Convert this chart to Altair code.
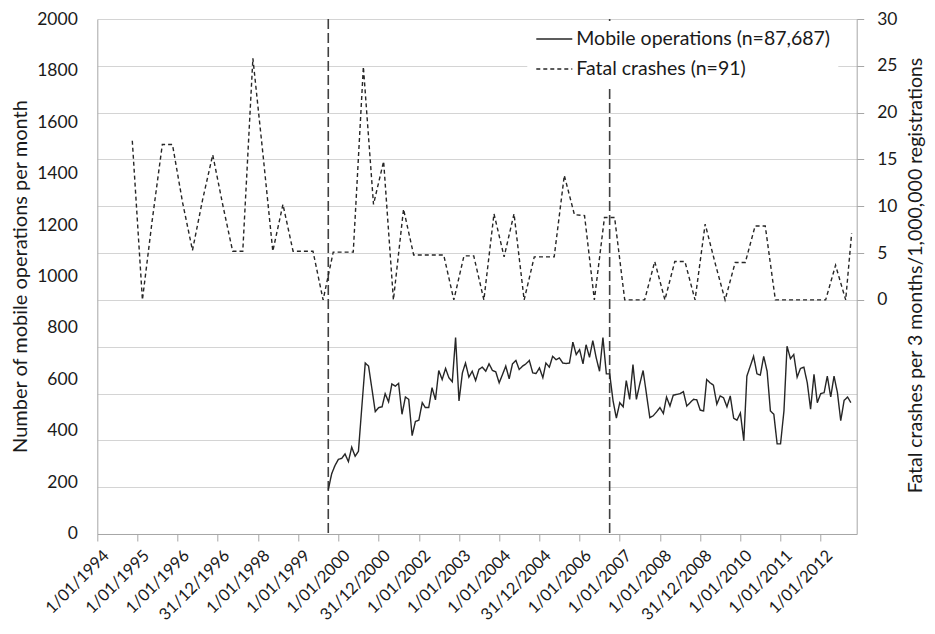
import altair as alt
import pandas as pd

# ---------------- data ----------------
X_TICK_LABELS = [
    "1/01/1994", "1/01/1995", "1/01/1996", "31/12/1996", "1/01/1998",
    "1/01/1999", "1/01/2000", "31/12/2000", "1/01/2002", "1/01/2003",
    "1/01/2004", "31/12/2004", "1/01/2006", "1/01/2007", "1/01/2008",
    "31/12/2008", "1/01/2010", "1/01/2011", "1/01/2012",
]
LEFT_TICKS = [0, 200, 400, 600, 800, 1000, 1200, 1400, 1600, 1800, 2000]
RIGHT_TICKS = [-25, -20, -15, -10, -5, 0, 5, 10, 15, 20, 25, 30]

MOB_LABEL = "Mobile operations (n=87,687)"
FAT_LABEL = "Fatal crashes (n=91)"

# monthly mobile operations, first month Oct 1999
MOBILE_START = "1999-10-01"
MOBILE = [
    172, 234, 266, 290, 294, 311, 281, 337, 302, 321, 494, 664, 652, 563, 475,
    491, 494, 545, 513, 583, 574, 585, 465, 532, 523, 382, 437, 442, 510, 491,
    491, 568, 521, 635, 600, 643, 607, 591, 763, 517, 626, 664,
    609, 632, 596, 639, 648, 632, 661, 635, 630, 587, 620, 652, 603, 661, 674,
    639, 652, 661, 674, 626, 623, 645, 607, 664, 648, 690, 677, 684, 664, 662,
    664, 745, 697, 716, 661, 735, 686, 751, 684, 632, 763, 622, 622,
    517, 450, 510, 494, 596, 523, 658, 523, 581, 635, 542, 452, 459, 474, 491,
    468, 532, 497, 539, 542, 545, 553, 497, 510, 523, 521, 481, 478, 600, 587,
    578, 504, 536, 529, 494, 536,
    450, 442, 470, 362, 613, 652, 690, 622, 617, 690, 632, 478, 465, 350, 350,
    478, 729, 681, 697, 609, 643, 648, 587, 485, 620, 510, 545, 549, 613, 532,
    613, 549, 440, 519, 532, 510,
]

# quarterly fatal crashes per 3 months / 1,000,000 registrations (mid-quarter)
FATAL_START = "1994-11-15"
FATAL = [
    17.0,
    0.0, 8.5, 16.6, 16.6,
    10.4, 5.3, 10.7, 15.5,
    10.1, 5.2, 5.2, 25.8,
    15.5, 5.2, 10.2, 5.2,
    5.2, 5.2, 0.0, 5.1,
    5.1, 5.1, 24.9, 10.2,
    14.8, 0.0, 9.7, 4.8,
    4.8, 4.8, 4.8, 0.0,
    4.7, 4.7, 0.0, 9.2,
    4.6, 9.2, 0.0, 4.6,
    4.6, 4.6, 13.3, 9.1,
    9.0, 0.0, 8.8, 8.8,
    0.0, 0.0, 0.0, 4.1,
    0.0, 4.1, 4.1, 0.0,
    8.1, 4.0, 0.0, 4.0,
    4.0, 7.9, 7.9, 0.0,
    0.0, 0.0, 0.0, 0.0,
    0.0, 3.7, 0.0,
]
FATAL_LAST_DATE = "2012-10-08"
FATAL_LAST = 7.1

EVENT_DATES = ["1999-10-01", "2006-10-01"]

# ---------------- tables ----------------
mob_dates = pd.date_range(MOBILE_START, periods=len(MOBILE), freq="MS")
df_mob = pd.DataFrame({
    "date": mob_dates.strftime("%Y-%m-%d"),
    "value": MOBILE,
    "series": MOB_LABEL,
})

fat_dates = [
    (pd.Timestamp(FATAL_START) + pd.DateOffset(months=3 * i)).strftime("%Y-%m-%d")
    for i in range(len(FATAL))
] + [FATAL_LAST_DATE]
df_fat = pd.DataFrame({
    "date": fat_dates,
    "value": FATAL + [FATAL_LAST],
    "series": FAT_LABEL,
})

df_ev = pd.DataFrame({"date": EVENT_DATES})


def label_to_ms(lbl):
    d, m, y = (int(p) for p in lbl.split("/"))
    return int(pd.Timestamp(year=y, month=m, day=d, tz="UTC").timestamp() * 1000)


x_tick_values = [label_to_ms(l) for l in X_TICK_LABELS]

FONT = "Lato"
TXT = "#1a1a1a"
AXIS_GREY = "#a6a6a6"
LINE = "#262626"

x_scale = alt.Scale(
    type="utc",
    domain=[alt.DateTime(year=1994, month=1, date=1, utc=True),
            alt.DateTime(year=2012, month=11, date=23, utc=True)],
    nice=False,
)
x_axis = alt.Axis(
    title=None, values=x_tick_values, grid=False, labelOverlap=False,
    labelExpr="utcFormat(datum.value, '%-d/%m/%Y')",
    labelAngle=315, labelAlign="right", labelBaseline="top",
    labelPadding=6, labelOffset=3, tickSize=7, labelFontSize=16.5,
)

dash_scale = alt.Scale(domain=[MOB_LABEL, FAT_LABEL], range=[[1, 0], [4, 3]])
legend = alt.Legend(
    title=None, orient="none", legendX=430, legendY=2,
    fillColor="white", padding=8, symbolType="stroke", symbolSize=1296,
    symbolStrokeWidth=1.5, symbolStrokeColor=LINE, labelFont=FONT,
    labelFontSize=19.5, labelColor=TXT, rowPadding=10, clipHeight=20,
    labelOffset=3, labelLimit=0, zindex=1,
)

rules = alt.Chart(df_ev).mark_rule(
    color="#404040", strokeWidth=1.6, strokeDash=[10, 4]
).encode(x=alt.X("date:T", scale=x_scale, axis=x_axis))

mob = alt.Chart(df_mob).mark_line(color=LINE, strokeWidth=1.4).encode(
    x=alt.X("date:T", scale=x_scale, axis=x_axis),
    y=alt.Y(
        "value:Q",
        scale=alt.Scale(domain=[0, 2000], nice=False),
        axis=alt.Axis(
            orient="left", values=LEFT_TICKS, grid=False, ticks=False,
            format="d", labelPadding=20, labelFontSize=17.5,
            title="Number of mobile operations per month",
            titleAngle=270, titleX=-76.5, titleY=257, titleAlign="center",
            titleBaseline="middle", titleFontSize=20,
        ),
    ),
    strokeDash=alt.StrokeDash("series:N", scale=dash_scale, legend=legend),
)

fat = alt.Chart(df_fat).mark_line(color=LINE, strokeWidth=1.4).encode(
    x=alt.X("date:T", scale=x_scale, axis=x_axis),
    y=alt.Y(
        "value:Q",
        scale=alt.Scale(domain=[-25, 30], nice=False, zero=False),
        axis=alt.Axis(
            orient="right", values=RIGHT_TICKS, grid=True,
            labelExpr="datum.value >= 0 ? datum.label : ''",
            tickSize=7,
            tickOpacity={"condition": {"test": "datum.value >= 0", "value": 1}, "value": 0},
            labelPadding=13, labelFontSize=17.5,
            title="Fatal crashes per 3 months/1,000,000 registrations",
            titleAngle=270, titleX=58.5, titleY=256, titleAlign="center",
            titleBaseline="middle", titleFontSize=19.5,
        ),
    ),
    strokeDash=alt.StrokeDash("series:N", scale=dash_scale, legend=legend),
)

chart = alt.layer(rules, mob, fat).resolve_scale(y="independent").properties(
    width=759.4, height=515,
    autosize=alt.AutoSizeParams(type="none"),
    padding={"left": 89.3, "top": 11, "right": 70, "bottom": 91},
).configure_view(stroke=None).configure_axis(
    labelFont=FONT, titleFont=FONT, labelColor=TXT, titleColor=TXT,
    titleFontWeight="normal", gridColor="#d4d4d4", gridWidth=1,
    domainColor=AXIS_GREY, tickColor=AXIS_GREY,
)

chart.save("out.html", embed_options={"renderer": "svg", "actions": False})
